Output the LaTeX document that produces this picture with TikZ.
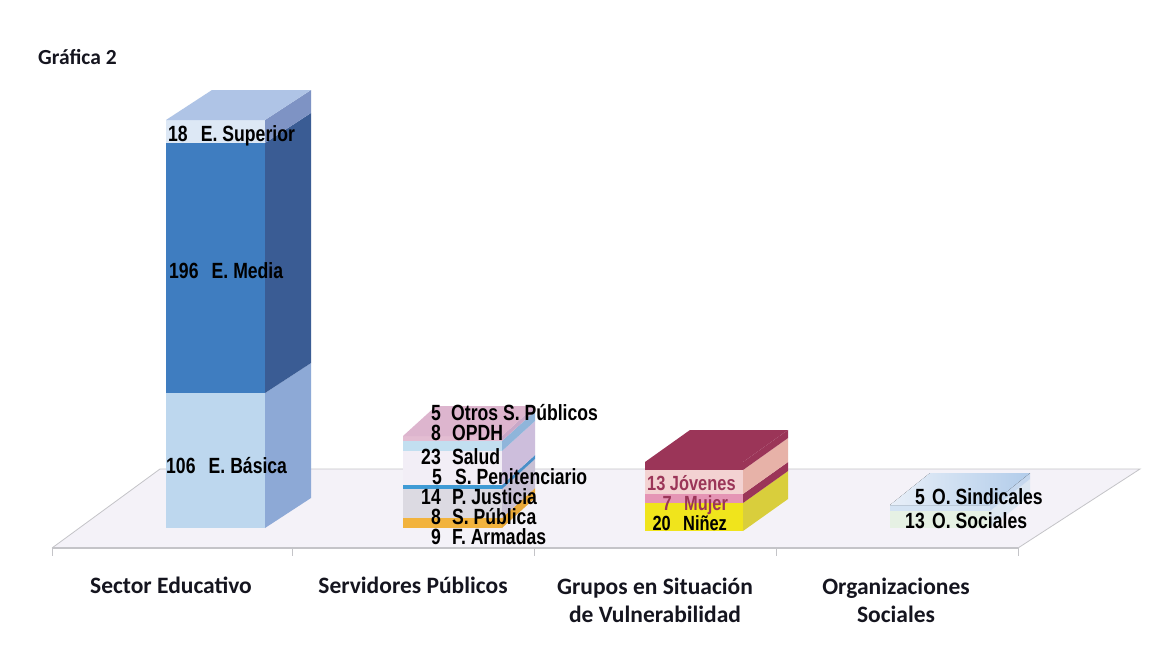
\documentclass[tikz,border=0pt]{standalone}
\usepackage{fontspec}
\setmainfont{Carlito}
\newfontfamily\barfont{Liberation Sans}[FakeStretch=0.8]
\usetikzlibrary{calc}
\definecolor{floorfill}{HTML}{F4F2F8}
\definecolor{floorline}{HTML}{C4C4C8}
\definecolor{txt}{HTML}{15151F}
\definecolor{maroon}{HTML}{9B3558}
\definecolor{aF}{HTML}{BDD7EE}\definecolor{aS}{HTML}{8DA9D6}
\definecolor{bF}{HTML}{3F7DC0}\definecolor{bS}{HTML}{3A5C94}
\definecolor{cF}{HTML}{DDE8F5}\definecolor{cS}{HTML}{7E93C4}
\definecolor{cT}{HTML}{AFC4E6}
\definecolor{oF}{HTML}{F2B33D}\definecolor{oS}{HTML}{E8A838}
\definecolor{gF}{HTML}{DCDAE2}\definecolor{gS}{HTML}{C8C0D4}
\definecolor{lF}{HTML}{3F9BD5}\definecolor{lS}{HTML}{4A8FC8}
\definecolor{wF}{HTML}{F2EEF6}\definecolor{wS}{HTML}{CDBEDC}
\definecolor{sF}{HTML}{C2DFF0}\definecolor{sS}{HTML}{8FB5DA}
\definecolor{pF}{HTML}{E3BDD2}\definecolor{pS}{HTML}{C9A8C8}
\definecolor{pT}{HTML}{DDB5CE}
\definecolor{yF}{HTML}{F0E41C}\definecolor{yS}{HTML}{D9CE3C}
\definecolor{mF}{HTML}{E595B5}
\definecolor{jF}{HTML}{F3D2D2}\definecolor{jS}{HTML}{E7B2A8}
\definecolor{eF}{HTML}{E6F1E4}\definecolor{eS}{HTML}{DCE7F2}
\definecolor{dF}{HTML}{D4E3F3}\definecolor{dS}{HTML}{C6D8EE}
\definecolor{dL}{HTML}{E8EFF8}\definecolor{dR}{HTML}{B2CCEA}
\newcommand\boxseg[8]{%
  \fill[#7] (#1,#3) rectangle (#2,#4);
  \fill[#8] (#2,#3) -- (#2,#4) -- ({#2+#5},{#4+#6}) -- ({#2+#5},{#3+#6}) -- cycle;}
\newcommand\boxtop[6]{%
  \fill[#6] (#1,#3) -- (#2,#3) -- ({#2+#4},{#3+#5}) -- ({#1+#4},{#3+#5}) -- cycle;}
\tikzset{
  cat/.style={font=\fontsize{23.5}{28}\selectfont\bfseries, text=txt, inner sep=0pt, align=center},
  lab/.style={font=\barfont\fontsize{22}{22}\selectfont\bfseries, text=black, inner sep=0pt},
  sml/.style={font=\barfont\fontsize{20.5}{21}\selectfont\bfseries},
  num/.style={lab, anchor=base east},
  nam/.style={lab, anchor=base west},
  tick/.style={draw=floorline, line width=1pt}
}
\begin{document}
\begin{tikzpicture}[x=1pt,y=-1pt]
\useasboundingbox[fill=white] (0,0) rectangle (1175,669);
% title
\node[font=\fontsize{21.5}{24}\selectfont\bfseries, text=txt, anchor=west, inner sep=0pt] (title) at (38,57) {Gráfica 2};
% floor
\fill[floorfill] (52,548) -- (1018,548) -- (1140,469) -- (160,469) -- cycle;
\draw[floorline, line width=0.8pt] (52,548) -- (160,469) -- (1140,469) -- (1018,548);
\draw[floorline, line width=1.3pt] (52,548) -- (1018,548);
\foreach \tx in {52,292,534,776,1018} \draw[tick] (\tx,548) -- (\tx,556);
% bar 1 : Sector Educativo
\boxseg{166}{265}{528}{393}{46}{-30}{aF}{aS}
\boxseg{166}{265}{393}{143}{46}{-30}{bF}{bS}
\boxseg{166}{265}{143}{120}{46}{-30}{cF}{cS}
\boxtop{166}{265}{120}{46}{-30}{cT}
% bar 2 : Servidores Publicos
\boxseg{403}{502}{528}{518}{33}{-30}{oF}{oS}
\boxseg{403}{502}{518}{489}{33}{-30}{gF}{gS}
\boxseg{403}{502}{489}{485}{33}{-30}{lF}{lS}
\boxseg{403}{502}{485}{451}{33}{-30}{wF}{wS}
\boxseg{403}{502}{451}{441}{33}{-30}{sF}{sS}
\boxseg{403}{502}{441}{436}{33}{-30}{pF}{pS}
\boxtop{403}{502}{436}{33}{-30}{pT}
% bar 3 : Grupos en Situacion de Vulnerabilidad
\boxseg{645}{743}{531}{503}{45}{-32}{yF}{yS}
\boxseg{645}{743}{503}{494}{45}{-32}{mF}{maroon}
\boxseg{645}{743}{494}{470}{45}{-32}{jF}{jS}
\boxseg{645}{743}{470}{462}{45}{-32}{maroon}{maroon}
\boxtop{645}{743}{462}{45}{-32}{maroon}
% bar 4 : Organizaciones Sociales
\boxseg{890}{990}{528}{511}{40}{-32}{eF}{eS}
\boxseg{890}{990}{511}{505}{40}{-32}{dF}{dS}
\boxtop{890}{990}{505}{40}{-32}{left color=dL, right color=dR}
% bar labels
\node[nam] (b1c) at (168,141) {18\hspace{0.6em}E. Superior};
\node[nam] (b1b) at (169,278) {196\hspace{0.6em}E. Media};
\node[nam] (b1a) at (166,473) {106\hspace{0.6em}E. Básica};
\node[num] (n27) at (441,420) {5};  \node[nam] (t27) at (451,420) {Otros S. Públicos};
\node[num] (n26) at (441,440) {8};  \node[nam] (t26) at (452,440) {OPDH};
\node[num] (n25) at (441,464) {23}; \node[nam] (t25) at (452,464) {Salud};
\node[num] (n24) at (442,484) {5};  \node[nam] (t24) at (455,484) {S. Penitenciario};
\node[num] (n23) at (441,504) {14}; \node[nam] (t23) at (452,504) {P. Justicia};
\node[num] (n22) at (441,524) {8};  \node[nam] (t22) at (452,524) {S. Pública};
\node[num] (n21) at (441,544) {9};  \node[nam] (t21) at (452,544) {F. Armadas};
\node[nam, sml, text=maroon] (t33) at (647,490) {13 Jóvenes};
\node[num, sml, text=maroon] (n32) at (672,510) {7}; \node[nam, sml, text=maroon] (t32) at (684,510) {Mujer};
\node[num, sml] (n31) at (671,530) {20}; \node[nam, sml] (t31) at (683,530) {Niñez};
\node[num] (n42) at (925,504) {5};  \node[nam] (t42) at (932,504) {O. Sindicales};
\node[num] (n41) at (925,528) {13}; \node[nam] (t41) at (932,528) {O. Sociales};
% category labels
\node[cat] (c1) at (171,585) {Sector Educativo};
\node[cat] (c2) at (413,585) {Servidores Públicos};
\node[cat] (c3) at (655,600) {Grupos en Situación\\de Vulnerabilidad};
\node[cat] (c4) at (896,600) {Organizaciones\\Sociales};
\end{tikzpicture}
\end{document}
